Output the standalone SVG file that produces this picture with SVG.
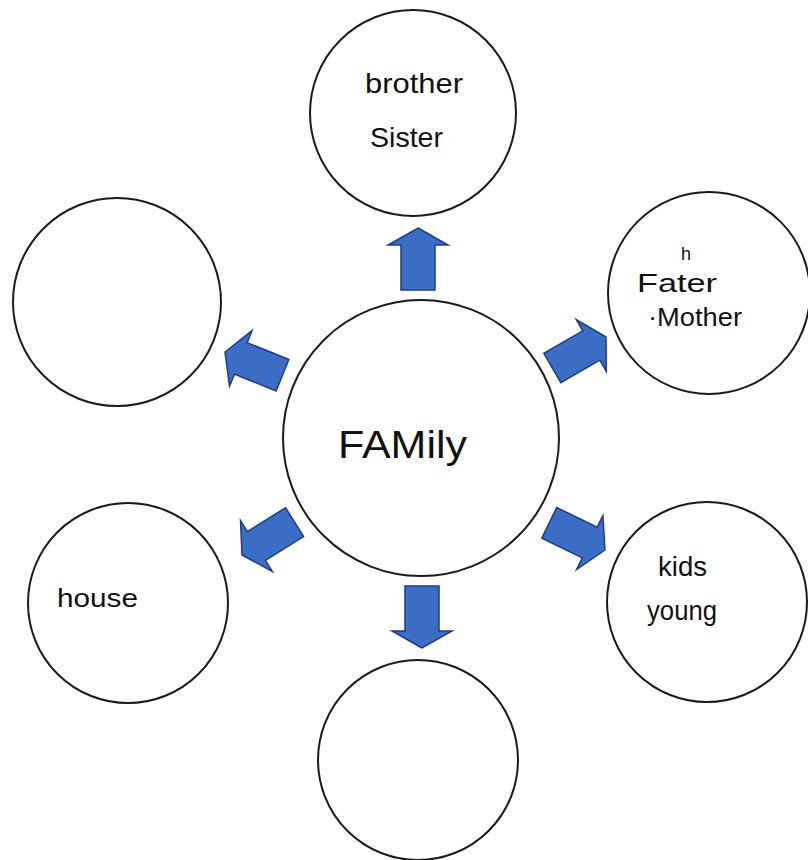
<svg xmlns="http://www.w3.org/2000/svg" xmlns:xlink="http://www.w3.org/1999/xlink" width="808" height="860" viewBox="0 0 808 860">
  <style>
    .node { fill: #ffffff; stroke: #1a1a1a; stroke-width: 2; }
    .hand { font-family: "Liberation Sans", "DejaVu Sans", sans-serif; fill: #111111; }
    .arrow { fill: #3c6ec6; stroke: #1f3c82; stroke-width: 1.5; stroke-linejoin: miter; }
  </style>
  <defs>
    <path id="arrow" d="M0,0 L30,17 L17,17 L17,62 L-17,62 L-17,17 L-30,17 Z"/>
  </defs>
  <rect x="0" y="0" width="808" height="860" fill="#ffffff"/>

  <g id="connectors">
    <use href="#arrow" class="arrow" transform="translate(418,228) rotate(0)"/>
    <use href="#arrow" class="arrow" transform="translate(606,337) rotate(60)"/>
    <use href="#arrow" class="arrow" transform="translate(605,550) rotate(116)"/>
    <use href="#arrow" class="arrow" transform="translate(422,648) rotate(180)"/>
    <use href="#arrow" class="arrow" transform="translate(242,555) rotate(-122)"/>
    <use href="#arrow" class="arrow" transform="translate(225,352) rotate(-68)"/>
  </g>

  <g id="node-family">
    <circle class="node" cx="421" cy="438" r="138"/>
    <text class="hand" x="338" y="458" font-size="38" textLength="129" lengthAdjust="spacingAndGlyphs">FAMily</text>
  </g>

  <g id="node-top">
    <circle class="node" cx="413" cy="113" r="103"/>
    <text class="hand" x="365" y="93" font-size="28" textLength="98" lengthAdjust="spacingAndGlyphs">brother</text>
    <text class="hand" x="370" y="147" font-size="28" textLength="73" lengthAdjust="spacingAndGlyphs">Sister</text>
  </g>

  <g id="node-upper-right">
    <circle class="node" cx="709" cy="293" r="101"/>
    <text class="hand" x="681" y="260" font-size="18">h</text>
    <text class="hand" x="637" y="292" font-size="26" textLength="80" lengthAdjust="spacingAndGlyphs">Fater</text>
    <text class="hand" x="648" y="326" font-size="26" textLength="94" lengthAdjust="spacingAndGlyphs">·Mother</text>
  </g>

  <g id="node-lower-right">
    <circle class="node" cx="707" cy="602" r="100"/>
    <text class="hand" x="658" y="576" font-size="28" textLength="49" lengthAdjust="spacingAndGlyphs">kids</text>
    <text class="hand" x="647" y="620" font-size="28" textLength="70" lengthAdjust="spacingAndGlyphs">young</text>
  </g>

  <g id="node-bottom">
    <circle class="node" cx="418" cy="760" r="100"/>
  </g>

  <g id="node-lower-left">
    <circle class="node" cx="128" cy="603" r="100"/>
    <text class="hand" x="57" y="607" font-size="26" textLength="81" lengthAdjust="spacingAndGlyphs">house</text>
  </g>

  <g id="node-upper-left">
    <circle class="node" cx="117" cy="302" r="104"/>
  </g>
</svg>
